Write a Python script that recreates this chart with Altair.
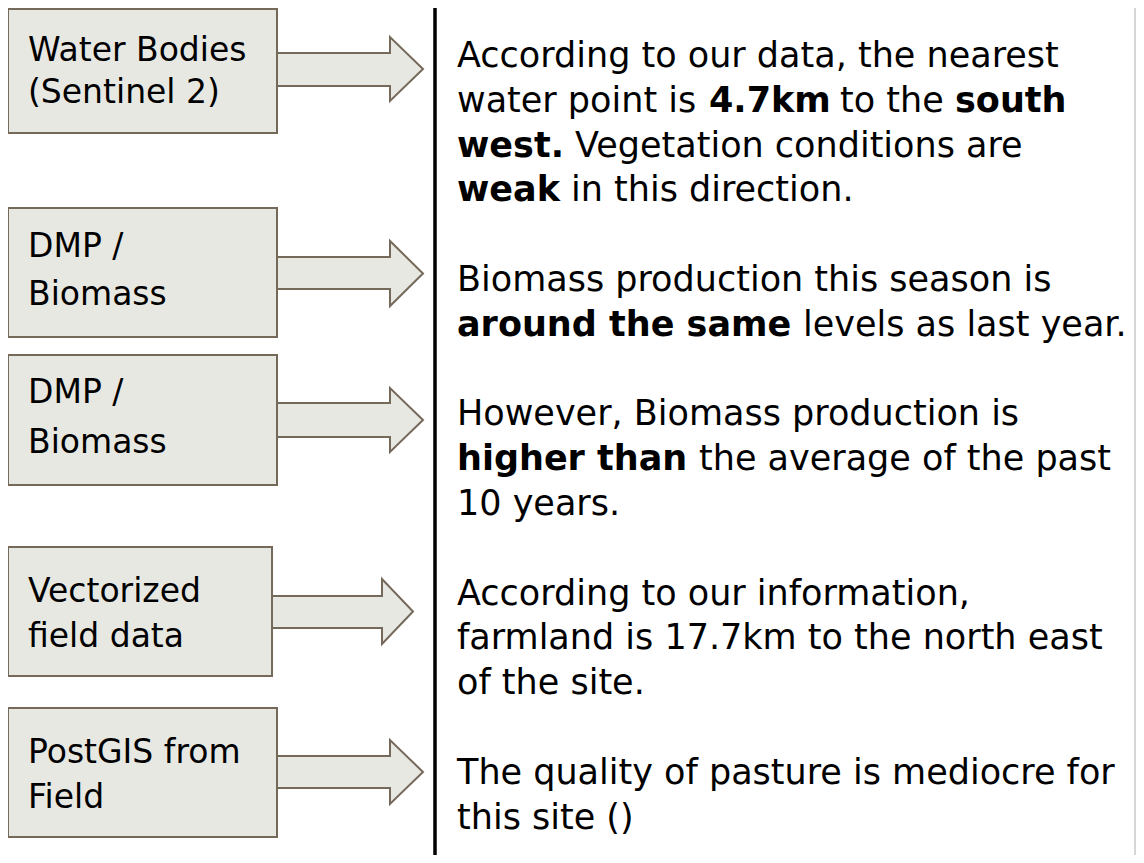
import altair as alt
import pandas as pd

# ---------------- content ----------------
box_labels = [
    ["Water Bodies", "(Sentinel 2)"],
    ["DMP /", "Biomass"],
    ["DMP /", "Biomass"],
    ["Vectorized", "field data"],
    ["PostGIS from", "Field"],
]

# (line index, text, bold)
right_segments = [
    (0, "According to our data, the nearest", False),
    (1, "water point is", False),
    (1, "4.7km", True),
    (1, "to the", False),
    (1, "south", True),
    (2, "west.", True),
    (2, "Vegetation conditions are", False),
    (3, "weak", True),
    (3, "in this direction.", False),
    (5, "Biomass production this season is", False),
    (6, "around the same", True),
    (6, "levels as last year.", False),
    (8, "However, Biomass production is", False),
    (9, "higher than", True),
    (9, "the average of the past", False),
    (10, "10 years.", False),
    (12, "According to our information,", False),
    (13, "farmland is 17.7km to the north east", False),
    (14, "of the site.", False),
    (16, "The quality of pasture is mediocre for", False),
    (17, "this site ()", False),
]

# ---------------- layout (pixels of the page) ----------------
W, H = 1128, 847
X0, Y0 = 8, 8
box_left = 8
box_top = [9, 208, 355, 547, 708]
box_bottom = [133, 337, 485, 676, 837]
box_right = [277, 277, 277, 272, 277]
label_x = 28
label_baselines = [[61, 103], [257, 305], [403, 453], [602, 647], [763, 808]]

shaft_top = [53, 257, 403, 596, 756]
shaft_bot = [86, 289, 437, 628, 788]
head_top = [37, 241, 388, 579, 740]
head_bot = [101, 306, 452, 644, 804]
head_base = [390, 390, 390, 382, 390]
tip_x = [423, 423, 423, 413, 423]

seg_x = [457,
         457, 709, 840, 955,
         457, 575,
         457, 571,
         457,
         457, 803,
         457,
         457, 699,
         457,
         457, 457, 457,
         457, 457]
line0, line_step = 67, 44.8

divider_x = 435
right_edge_x = 1135

FILL = "#e8e8e3"
EDGE = "#75695a"
LEFT_FONT = "DejaVu Sans"
RIGHT_FONT = "DejaVu Sans"
LEFT_SIZE = 33
RIGHT_SIZE = 35

# ---------------- tables ----------------
boxes = pd.DataFrame({
    "x1": [box_left] * 5, "x2": box_right, "y1": box_top, "y2": box_bottom,
})

shafts = pd.DataFrame({
    "x1": [r - 1 for r in box_right], "x2": head_base, "y1": shaft_top, "y2": shaft_bot,
})

head_rows, outline_rows = [], []
for i in range(5):
    ty = (head_top[i] + head_bot[i]) / 2
    head_rows.append({"arrow": i, "x": head_base[i], "ya": head_top[i], "yb": head_bot[i]})
    head_rows.append({"arrow": i, "x": tip_x[i], "ya": ty, "yb": ty})
    path = [
        (box_right[i], shaft_top[i]),
        (head_base[i], shaft_top[i]),
        (head_base[i], head_top[i]),
        (tip_x[i], ty),
        (head_base[i], head_bot[i]),
        (head_base[i], shaft_bot[i]),
        (box_right[i], shaft_bot[i]),
    ]
    for k, (x, y) in enumerate(path):
        outline_rows.append({"arrow": i, "o": k, "x": x, "y": y})
heads = pd.DataFrame(head_rows)
outlines = pd.DataFrame(outline_rows)

label_rows = []
for i, lines in enumerate(box_labels):
    for j, t in enumerate(lines):
        label_rows.append({"x": label_x, "y": label_baselines[i][j], "t": t})
labels = pd.DataFrame(label_rows)

seg_rows = []
for (li, t, b), x in zip(right_segments, seg_x):
    seg_rows.append({"x": x, "y": line0 + line_step * li, "t": t, "bold": b})
segs = pd.DataFrame(seg_rows)

rules = pd.DataFrame({"x": [divider_x], "y1": [Y0], "y2": [Y0 + H]})
edge = pd.DataFrame({"x": [right_edge_x], "y1": [Y0], "y2": [Y0 + H]})

# ---------------- scales ----------------
xs = alt.Scale(domain=[X0, X0 + W], nice=False, zero=False)
ys = alt.Scale(domain=[Y0, Y0 + H], nice=False, zero=False, reverse=True)


def X(f):
    return alt.X(f"{f}:Q", scale=xs, axis=None)


def Y(f):
    return alt.Y(f"{f}:Q", scale=ys, axis=None)


shaft_layer = alt.Chart(shafts).mark_rect(fill=FILL, strokeWidth=0).encode(
    x=X("x1"), x2=alt.X2("x2:Q"), y=Y("y1"), y2=alt.Y2("y2:Q")
)

head_layer = alt.Chart(heads).mark_area(
    fill=FILL, fillOpacity=1, orient="vertical", interpolate="linear"
).encode(x=X("x"), y=Y("ya"), y2=alt.Y2("yb:Q"), detail="arrow:N")

outline_layer = alt.Chart(outlines).mark_line(
    color=EDGE, strokeWidth=2, strokeJoin="miter"
).encode(x=X("x"), y=Y("y"), detail="arrow:N", order=alt.Order("o:Q"))

box_layer = alt.Chart(boxes).mark_rect(
    fill=FILL, stroke=EDGE, strokeWidth=2
).encode(x=X("x1"), x2=alt.X2("x2:Q"), y=Y("y1"), y2=alt.Y2("y2:Q"))

label_layer = alt.Chart(labels).mark_text(
    align="left", baseline="alphabetic", font=LEFT_FONT, fontSize=LEFT_SIZE, color="#000000"
).encode(x=X("x"), y=Y("y"), text="t:N")

reg_layer = alt.Chart(segs[~segs["bold"]]).mark_text(
    align="left", baseline="alphabetic", font=RIGHT_FONT, fontSize=RIGHT_SIZE, color="#000000"
).encode(x=X("x"), y=Y("y"), text="t:N")

bold_layer = alt.Chart(segs[segs["bold"]]).mark_text(
    align="left", baseline="alphabetic", font=RIGHT_FONT, fontSize=RIGHT_SIZE,
    fontWeight="bold", color="#000000"
).encode(x=X("x"), y=Y("y"), text="t:N")

divider = alt.Chart(rules).mark_rule(color="#000000", strokeWidth=3.5).encode(
    x=X("x"), y=Y("y1"), y2=alt.Y2("y2:Q")
)
edge_line = alt.Chart(edge).mark_rule(color="#c8c8c8", strokeWidth=1.5).encode(
    x=X("x"), y=Y("y1"), y2=alt.Y2("y2:Q")
)

chart = alt.layer(
    shaft_layer, head_layer, outline_layer, box_layer, label_layer,
    reg_layer, bold_layer, divider, edge_line
).properties(
    width=W, height=H, padding=0, background="white",
    autosize=alt.AutoSizeParams(type="none"),
).configure_view(strokeWidth=0)

chart.save("out.html", embed_options={"renderer": "svg", "actions": False})
